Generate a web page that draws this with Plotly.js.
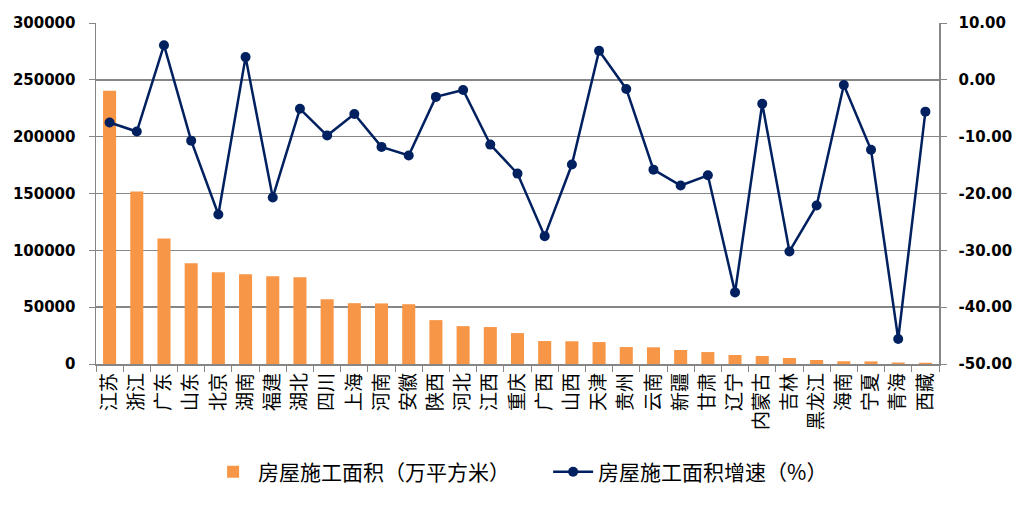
<!DOCTYPE html>
<html>
<head>
<meta charset="utf-8">
<script src="https://cdn.plot.ly/plotly-3.0.1.min.js"></script>
<style>html,body{margin:0;padding:0;background:#fff;}#chart{width:1031px;height:505px;}</style>
</head>
<body>
<div id="chart"></div>
<script>
const provinces = ["江苏","浙江","广东","山东","北京","湖南","福建","湖北","四川","上海","河南","安徽","陕西","河北","江西","重庆","广西","山西","天津","贵州","云南","新疆","甘肃","辽宁","内蒙古","吉林","黑龙江","海南","宁夏","青海","西藏"];
const area = [240300,151800,110500,88600,80700,79000,77200,76300,57000,53500,53300,52600,38600,33300,32500,27200,20200,20000,19300,14900,14700,12300,10500,7900,7000,5300,3500,2400,2300,1300,1100];
const growth = [-7.5,-9.1,6.1,-10.7,-23.7,4.0,-20.7,-5.1,-9.8,-6.0,-11.8,-13.3,-3.0,-1.8,-11.4,-16.5,-27.5,-14.9,5.1,-1.6,-15.8,-18.6,-16.8,-37.4,-4.2,-30.2,-22.1,-0.9,-12.3,-45.6,-5.6];
const barName = "房屋施工面积（万平方米）";
const lineName = "房屋施工面积增速（%）";
const leftTicks = [0,50000,100000,150000,200000,250000,300000];
const rightTicks = [-50,-40,-30,-20,-10,0,10];

const cjk = '"Noto Sans CJK SC", "Noto Sans", sans-serif';
const num = '"DejaVu Sans", sans-serif';

const traces = [
  {type:'bar', x:provinces, y:area, name:barName, marker:{color:'#F79646'}, yaxis:'y'},
  {type:'scatter', mode:'lines+markers', x:provinces, y:growth, name:lineName, yaxis:'y2',
   line:{color:'#002060', width:2.5}, marker:{color:'#002060', size:10}}
];
const layout = {
  width:1031, height:505,
  margin:{l:96, r:92, t:23, b:141},
  paper_bgcolor:'#fff', plot_bgcolor:'#fff',
  bargap:0.52,
  showlegend:true,
  legend:{orientation:'h', x:0.133, xanchor:'left', y:-0.317, yanchor:'middle', entrywidth:285,
          font:{family:cjk, size:21, color:'#000'}, itemwidth:40, traceorder:'normal'},
  xaxis:{type:'category', range:[-0.5, provinces.length-0.5], tickangle:-90, tickson:'boundaries', ticks:'outside', ticklen:6,
         tickcolor:'#868686', showline:true, linecolor:'#868686', linewidth:1.5,
         tickfont:{family:cjk, size:19, color:'#000'}, showgrid:false, zeroline:false},
  yaxis:{range:[0,300000], tickvals:leftTicks, ticktext:leftTicks.map(String),
         showgrid:true, gridcolor:'#868686', gridwidth:1.5, zeroline:false,
         showline:true, linecolor:'#868686', linewidth:1.5, ticks:'outside', ticklen:6, tickcolor:'#868686',
         ticklabelstandoff:10,
         tickfont:{family:num, size:15, color:'#000', weight:'bold'}},
  yaxis2:{range:[-50,10], overlaying:'y', side:'right', tickvals:rightTicks,
          ticktext:rightTicks.map(v=>v.toFixed(2)), showgrid:false, zeroline:false,
          showline:true, linecolor:'#868686', linewidth:1.5, ticks:'outside', ticklen:6, tickcolor:'#868686',
          ticklabelstandoff:9,
          tickfont:{family:num, size:15, color:'#000', weight:'bold'}}
};
Plotly.newPlot('chart', traces, layout, {displayModeBar:false, staticPlot:true});
</script>
</body>
</html>
